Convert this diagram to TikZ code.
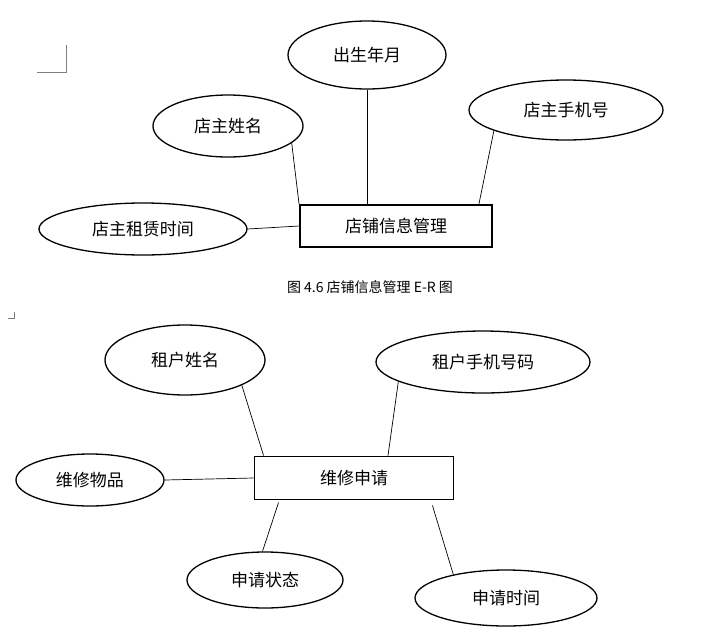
\documentclass[tikz,border=0pt]{standalone}
\usepackage{fontspec}
\newfontfamily\cjk{Noto Sans CJK SC}
\usetikzlibrary{positioning,shapes,calc}
\tikzstyle{attr} = [ellipse, draw=black, line width=1.3pt, inner sep=0pt, font=\cjk\fontsize{17}{17}\selectfont]
\tikzstyle{entity} = [rectangle, draw=black, line width=1.9pt, inner sep=0pt, font=\cjk\fontsize{17}{17}\selectfont]
\tikzstyle{link} = [line width=0.7pt]

\begin{document}
\begin{tikzpicture}[x=1pt,y=-1pt]
			\useasboundingbox (0,0) rectangle (713,630);
			% corner marks
			\draw [line width=0.5pt,gray] (37,72) -- (66,72) -- (66,45);
			\draw [line width=0.5pt,gray] (8,318) -- (14,318) -- (14,312);
			% shop
			\node (shop) [entity,minimum width=192pt,minimum height=42pt] at (396,226) {店铺信息管理};
			\node (birth) [attr,minimum width=158pt,minimum height=68pt] at (367,55) {出生年月};
			\node (oname) [attr,minimum width=150pt,minimum height=62pt] at (228,126) {店主姓名};
			\node (ophone) [attr,minimum width=194pt,minimum height=60pt] at (566,110) {店主手机号};
			\node (lease) [attr,minimum width=208pt,minimum height=52pt] at (143,229) {店主租赁时间};
			\node (cap1) [font=\cjk\fontsize{14}{14}\selectfont] at (370,287) {图 4.6 店铺信息管理 E-R 图};

			\draw [link] (oname.-15) -- (shop.north west);
			\draw [link] (birth.south) -- (birth.south |- shop.north);
			\draw [link] (ophone.196) -- ($(shop.north east)+(-14,0)$);
			\draw [link] (lease.east) -- (shop.west);

			% repair
			\node (rep) [entity,minimum width=199pt,minimum height=43pt] at (354,478) {维修申请};
			\node (tname) [attr,minimum width=160pt,minimum height=70pt] at (185,360) {租户姓名};
			\node (tphone) [attr,minimum width=214pt,minimum height=62pt] at (483,362) {租户手机号码};
			\node (item) [attr,minimum width=148pt,minimum height=52pt] at (90,480) {维修物品};
			\node (state) [attr,minimum width=156pt,minimum height=56pt] at (265,580) {申请状态};
			\node (time) [attr,minimum width=182pt,minimum height=56pt] at (506,598) {申请时间};

			\draw [link] (tname.-24) -- ($(rep.north west)+(10,0)$);
			\draw [link] (tphone.193) -- ($(rep.north)+(34,0)$);
			\draw [link] (item.east) -- (rep.west);
			\draw [link] ($(rep.south west)+(25,2)$) -- (state.95);
			\draw [link] ($(rep.south east)+(-22,5)$) -- (time.156);
\end{tikzpicture}
\end{document}
